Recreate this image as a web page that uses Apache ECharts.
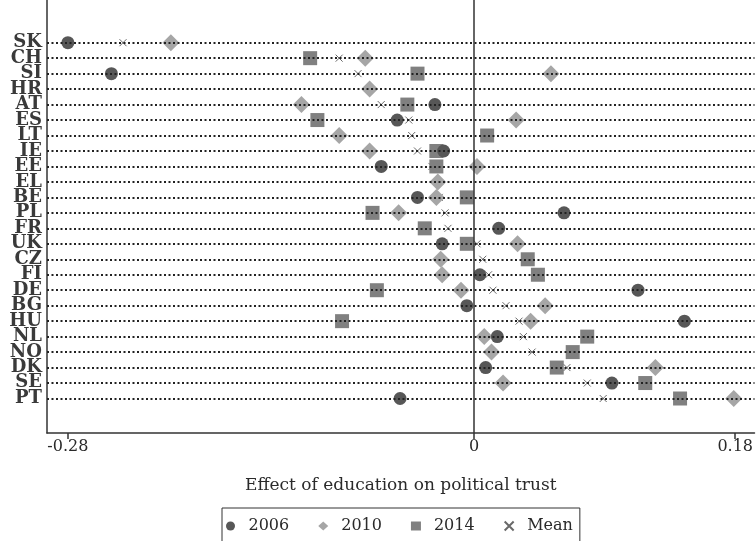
<!DOCTYPE html>
<html>
<head>
<meta charset="utf-8">
<script src="https://cdn.jsdelivr.net/npm/echarts@6/dist/echarts.min.js"></script>
<style>
  html, body { margin: 0; padding: 0; background: #fff; }
  #chart { width: 756px; height: 541px; }
</style>
</head>
<body>
<div id="chart"></div>
<script>
// paises, de arriba hacia abajo
const paises = ['SK','CH','SI','HR','AT','ES','LT','IE','EE','EL','BE','PL','FR','UK','CZ','FI','DE','BG','HU','NL','NO','DK','SE','PT'];

// efectos por año (null = sin dato)
const ef2006 = [-0.280, null, -0.250, null, -0.027, -0.053, null, -0.021, -0.064, null, -0.039, 0.062, 0.017, -0.022, null, 0.004, 0.113, -0.005, 0.145, 0.016, null, 0.008, 0.095, -0.051];
const ef2010 = [-0.209, -0.075, 0.053, -0.072, -0.119, 0.029, -0.093, -0.072, 0.002, -0.025, -0.026, -0.052, null, 0.030, -0.023, -0.022, -0.009, 0.049, 0.039, 0.007, 0.012, 0.125, 0.020, 0.179];
const ef2014 = [null, -0.113, -0.039, null, -0.046, -0.108, 0.009, -0.026, -0.026, null, -0.005, -0.070, -0.034, -0.005, 0.037, 0.044, -0.067, null, -0.091, 0.078, 0.068, 0.057, 0.118, 0.142];
const efMedia = [-0.242, -0.093, -0.080, -0.072, -0.064, -0.045, -0.043, -0.039, -0.029, -0.025, -0.024, -0.020, -0.018, 0.002, 0.006, 0.010, 0.013, 0.022, 0.031, 0.034, 0.040, 0.064, 0.078, 0.089];

const ticksX = [-0.28, 0, 0.18];

const fuente = 'DejaVu Serif';

// convierte un arreglo de valores en puntos [x, fila]
const puntos = (arr) => arr.map((v, i) => v === null ? null : [v, i]).filter(p => p !== null);

var myChart = echarts.init(document.getElementById('chart'));

// filas: 15.46 px, primera fila en y=42.7, eje inferior en y=433
var option = {
    animation: false,
    textStyle: { fontFamily: fuente },
    grid: [
        { left: 47, right: 0, top: 0, height: 433 },
        // grid solo para las etiquetas de los paises
        { left: 47, right: 0, top: 34.97, height: 371.04 }
    ],
    xAxis: [
        {
            type: 'value',
            gridIndex: 0,
            min: -0.2944,
            max: 0.1933,
            name: 'Effect of education on political trust',
            nameLocation: 'middle',
            nameGap: 44,
            nameTextStyle: { fontFamily: fuente, fontSize: 17, color: '#2a2a2a' },
            axisLine: { show: true, onZero: false, lineStyle: { color: '#333', width: 1.5 } },
            axisTick: { show: true, customValues: ticksX, length: 6, lineStyle: { color: '#333', width: 1.5 } },
            axisLabel: {
                customValues: ticksX,
                fontFamily: fuente, fontSize: 16, color: '#2a2a2a', margin: 6,
                formatter: (v) => v === 0 ? '0' : String(v)
            },
            splitLine: { show: false }
        },
        { type: 'value', gridIndex: 1, show: false }
    ],
    yAxis: [
        {
            type: 'value',
            gridIndex: 0,
            inverse: true,
            min: -2.76,
            max: 25.23,
            axisLine: { show: true, onZero: false, lineStyle: { color: '#333', width: 1.5 } },
            axisTick: { show: false },
            axisLabel: { show: false },
            splitLine: { show: false }
        },
        {
            type: 'category',
            gridIndex: 1,
            inverse: true,
            data: paises,
            axisLine: { show: false },
            axisTick: { show: false },
            splitLine: { show: false },
            axisLabel: {
                interval: 0,
                hideOverlap: false,
                fontFamily: fuente, fontSize: 18, fontWeight: 'bold',
                color: '#3a3a3a', margin: 5
            }
        }
    ],
    legend: {
        left: 222,
        top: 508,
        itemGap: 29,
        itemWidth: 10,
        itemHeight: 9,
        padding: [10, 7, 14, 4],
        borderColor: '#333',
        borderWidth: 1,
        textStyle: { fontFamily: fuente, fontSize: 16, color: '#2a2a2a', padding: [0, 0, 0, 8] },
        data: ['2006', '2010', '2014', 'Mean']
    },
    series: [
        {
            name: 'Mean',
            type: 'scatter',
            symbol: 'path://M0,0L10,10M10,0L0,10',
            symbolSize: 7,
            itemStyle: { color: 'rgba(0,0,0,0)', borderColor: '#444', borderWidth: 1 },
            data: puntos(efMedia),
            // lineas punteadas de cada pais y linea del cero
            markLine: {
                silent: true,
                symbol: 'none',
                label: { show: false },
                data: paises.map((p, i) => ({
                    yAxis: i,
                    lineStyle: { color: '#222', width: 1.8, type: [2, 2.5] }
                })).concat([{
                    xAxis: 0,
                    lineStyle: { color: '#333', width: 1.5, type: 'solid' }
                }])
            }
        },
        {
            name: '2010',
            type: 'scatter',
            symbol: 'diamond',
            symbolSize: 17,
            itemStyle: { color: '#a6a6a6', opacity: 1 },
            data: puntos(ef2010)
        },
        {
            name: '2014',
            type: 'scatter',
            symbol: 'rect',
            symbolSize: 14,
            itemStyle: { color: '#808080', opacity: 1 },
            data: puntos(ef2014)
        },
        {
            name: '2006',
            type: 'scatter',
            symbol: 'circle',
            symbolSize: 13,
            itemStyle: { color: '#575757', opacity: 1 },
            data: puntos(ef2006)
        }
    ]
};

myChart.setOption(option);
</script>
</body>
</html>
